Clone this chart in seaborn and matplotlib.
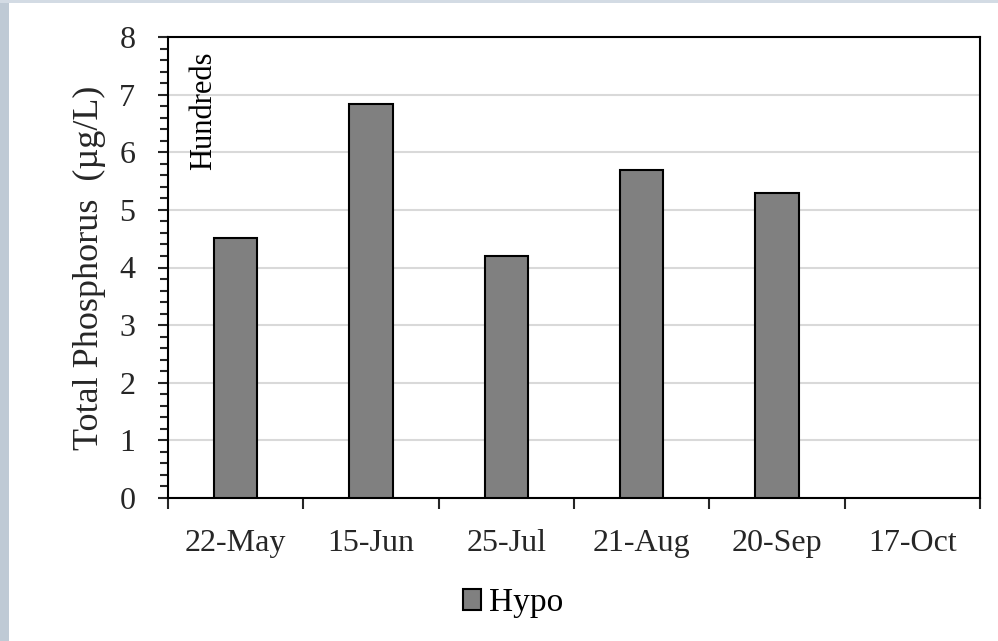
import matplotlib
matplotlib.use("Agg")
import matplotlib.pyplot as plt
import matplotlib.patches as mpatches
from matplotlib.ticker import MultipleLocator, FixedLocator
import numpy as np
import pandas as pd
import seaborn as sns

# Sampling dates and hypolimnion total phosphorus (hundreds of µg/L)
dates = ["22-May", "15-Jun", "25-Jul", "21-Aug", "20-Sep", "17-Oct"]
hypo = [4.52, 6.83, 4.20, 5.70, 5.29, np.nan]
series_name = "Hypo"

df = pd.DataFrame({"date": dates, "tp": hypo})

sns.set_theme(style="white")
plt.rcParams["font.family"] = ["Liberation Serif", "DejaVu Serif"]
plt.rcParams["text.color"] = "black"

fig = plt.figure(figsize=(9.98, 6.41), dpi=100)
fig.patch.set_facecolor("white")

# light slate frame along the left and top edges
fig.patches.append(mpatches.Rectangle((0, 0), 9 / 998, 1, transform=fig.transFigure,
                                      facecolor="#bfcad5", edgecolor="none", zorder=0))
fig.patches.append(mpatches.Rectangle((0, 1 - 3 / 641), 1, 3 / 641, transform=fig.transFigure,
                                      facecolor="#d3dbe4", edgecolor="none", zorder=0))

ax = fig.add_axes([168 / 998, 1 - 498 / 641, 812 / 998, 461 / 641])

sns.barplot(data=df, x="date", y="tp", order=dates, color="#808080", width=0.32,
            edgecolor="black", linewidth=1.5, saturation=1, ax=ax, zorder=3)

ax.set_ylim(0, 8)
ax.set_xlim(-0.5, len(dates) - 0.5)
ax.yaxis.set_major_locator(MultipleLocator(1))
ax.yaxis.set_minor_locator(MultipleLocator(0.2))
ax.grid(axis="y", which="major", color="#d9d9d9", linewidth=1.5, zorder=0)
ax.set_axisbelow(True)

# category boundary ticks on the x axis, labels centred in each category
ax.xaxis.set_minor_locator(FixedLocator(np.arange(-0.5, len(dates), 1.0)))
ax.tick_params(axis="x", which="major", length=0, pad=22, labelsize=23)
ax.tick_params(axis="x", which="minor", length=8, width=1.5, direction="out", bottom=True)
ax.tick_params(axis="y", which="major", length=7.5, width=1.5, direction="out", left=True,
               labelsize=23, pad=16)
ax.tick_params(axis="y", which="minor", length=6, width=1.5, direction="out", left=True)

for s in ax.spines.values():
    s.set_visible(True)
    s.set_color("black")
    s.set_linewidth(1.5)

ax.set_xlabel("")
ax.set_ylabel("Total Phosphorus  (\u00b5g/L)", fontsize=26)
ax.yaxis.set_label_coords(-0.076, 0.5)

ax.text(0.044, 0.84, "Hundreds", transform=ax.transAxes, rotation=90,
        ha="center", va="center", fontsize=22)

handle = mpatches.Patch(facecolor="#808080", edgecolor="black", linewidth=1.5, label=series_name)
fig.legend(handles=[handle], loc="center", bbox_to_anchor=(513 / 998, 1 - 603 / 641),
           frameon=False, fontsize=24, handlelength=0.55, handleheight=0.55,
           handletextpad=0.25)

fig.savefig("out.png", dpi=100)
